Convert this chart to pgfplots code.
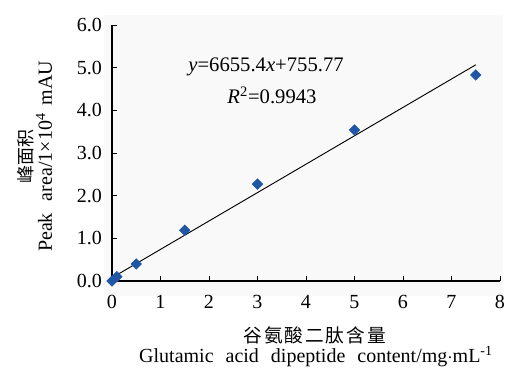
\documentclass[border=0pt]{standalone}
\usepackage{pgfplots}
\pgfplotsset{compat=1.18}
\usepackage{fontspec}
\setmainfont{Liberation Serif}
\newfontfamily\cjk{Noto Sans CJK SC}
\definecolor{ptblue}{HTML}{1F56A6}
\definecolor{bg}{HTML}{F9F9F9}
\begin{document}
\begin{tikzpicture}[x=1pt,y=1pt]
\useasboundingbox (-84,-69.75) rectangle (294.75,210.75);
\fill[bg] (-6,-11.25) rectangle (293,199.5);
\begin{axis}[
  at={(0,0)}, anchor=origin,
  scale only axis, width=291pt, height=192pt,
  xmin=0, xmax=8, ymin=0, ymax=6,
  axis x line=bottom, axis y line=left,
  axis line style={-, line width=0.9pt},
  xtick={0,...,8}, ytick={0,1,...,6},
  tick align=inside,
  major tick length=4pt,
  tick style={line width=0.6pt, black},
  yticklabel style={/pgf/number format/fixed, /pgf/number format/fixed zerofill, /pgf/number format/precision=1, xshift=-4pt},
  /pgf/number format/assume math mode=true,
  ticklabel style={font=\fontsize{15}{16}\selectfont},
  xticklabel style={yshift=-7pt},
  clip=false,
]
\addplot[black, line width=0.7pt, no marks] coordinates {(0,0.075577) (7.5,5.06713)};
\addplot[only marks, mark=square*, mark size=2.8pt, mark options={rotate=45, fill=ptblue, draw=ptblue}]
  coordinates {(0,0.0) (0.1,0.1) (0.5,0.4) (1.5,1.19) (3,2.27) (5,3.54) (7.5,4.83)};
\end{axis}
\node[font=\fontsize{15.5}{16}\selectfont] at (115.5,160.5) {\textit{y}=6655.4\textit{x}+755.77};
\node[font=\fontsize{15.5}{16}\selectfont] at (120,139.5) {\textit{R}\textsuperscript{2}=0.9943};
\node[rotate=90, font=\cjk\fontsize{13.5}{14}\selectfont] at (-64.5,93) {峰面积};
\node[rotate=90, font=\fontsize{15}{16}\selectfont] at (-51,93.5) {Peak\hspace{0.6em}area/1×10\textsuperscript{4}\hspace{0.4em}mAU};
\node[font=\cjk\fontsize{14}{15}\selectfont] at (152,-40.5) {谷\hspace{1.5pt}氨\hspace{1.5pt}酸\hspace{1.5pt}二\hspace{1.5pt}肽\hspace{1.5pt}含\hspace{1.5pt}量};
\node[font=\fontsize{15}{16}\selectfont] at (153,-57) {Glutamic\hspace{0.6em}acid\hspace{0.6em}dipeptide\hspace{0.6em}content/mg$\cdot$mL\textsuperscript{-1}};
\end{tikzpicture}
\end{document}
